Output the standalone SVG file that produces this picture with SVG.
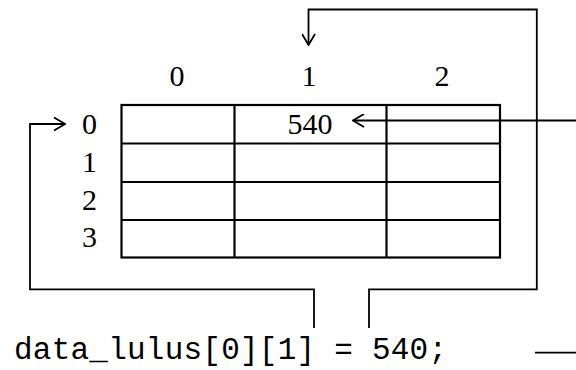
<svg xmlns="http://www.w3.org/2000/svg" width="576" height="370" viewBox="0 0 576 370">
  <style>
    .num { font-family: "Liberation Serif", "Times New Roman", serif; font-size: 30px; fill: #000; text-anchor: middle; }
    .code { font-family: "Courier New", "Liberation Mono", monospace; font-size: 31px; fill: #000; }
    .grid { fill: none; stroke: #000; stroke-width: 2.2; }
    .conn { fill: none; stroke: #000; stroke-width: 1.8; }
  </style>
  <defs>
    <marker id="open" viewBox="0 0 13 14" refX="12" refY="7" markerWidth="13" markerHeight="14" markerUnits="userSpaceOnUse" orient="auto">
      <path d="M1,0.5 L12,7 L1,13.5" fill="none" stroke="#000" stroke-width="1.8"/>
    </marker>
  </defs>
  <rect width="576" height="370" fill="#fff"/>

  <g id="array">
    <rect class="grid" x="121.5" y="105" width="378.5" height="152.5"/>
    <line class="grid" x1="234.5" y1="105" x2="234.5" y2="257.5"/>
    <line class="grid" x1="386.5" y1="105" x2="386.5" y2="257.5"/>
    <line class="grid" x1="121.5" y1="143.5" x2="500" y2="143.5"/>
    <line class="grid" x1="121.5" y1="182" x2="500" y2="182"/>
    <line class="grid" x1="121.5" y1="220" x2="500" y2="220"/>
    <text class="num" x="310" y="134">540</text>
  </g>

  <g id="col-labels">
    <text class="num" x="177" y="86">0</text>
    <text class="num" x="309" y="86">1</text>
    <text class="num" x="442" y="86">2</text>
  </g>

  <g id="row-labels">
    <text class="num" x="89.5" y="134">0</text>
    <text class="num" x="89.5" y="172">1</text>
    <text class="num" x="89.5" y="210">2</text>
    <text class="num" x="89.5" y="247">3</text>
  </g>

  <g id="statement">
    <text class="code" x="14" y="359" textLength="433" xml:space="preserve">data_lulus[0][1] = 540;</text>
  </g>

  <g id="connectors">
    <path class="conn" d="M369,328 V289.3 H536.8 V9.5 H308.5 V45" marker-end="url(#open)"/>
    <path class="conn" d="M314,328 V289.3 H30 V124 H65" marker-end="url(#open)"/>
    <path class="conn" d="M576,120.5 H353" marker-end="url(#open)"/>
    <line class="conn" x1="535" y1="352.7" x2="576" y2="352.7"/>
  </g>
</svg>
